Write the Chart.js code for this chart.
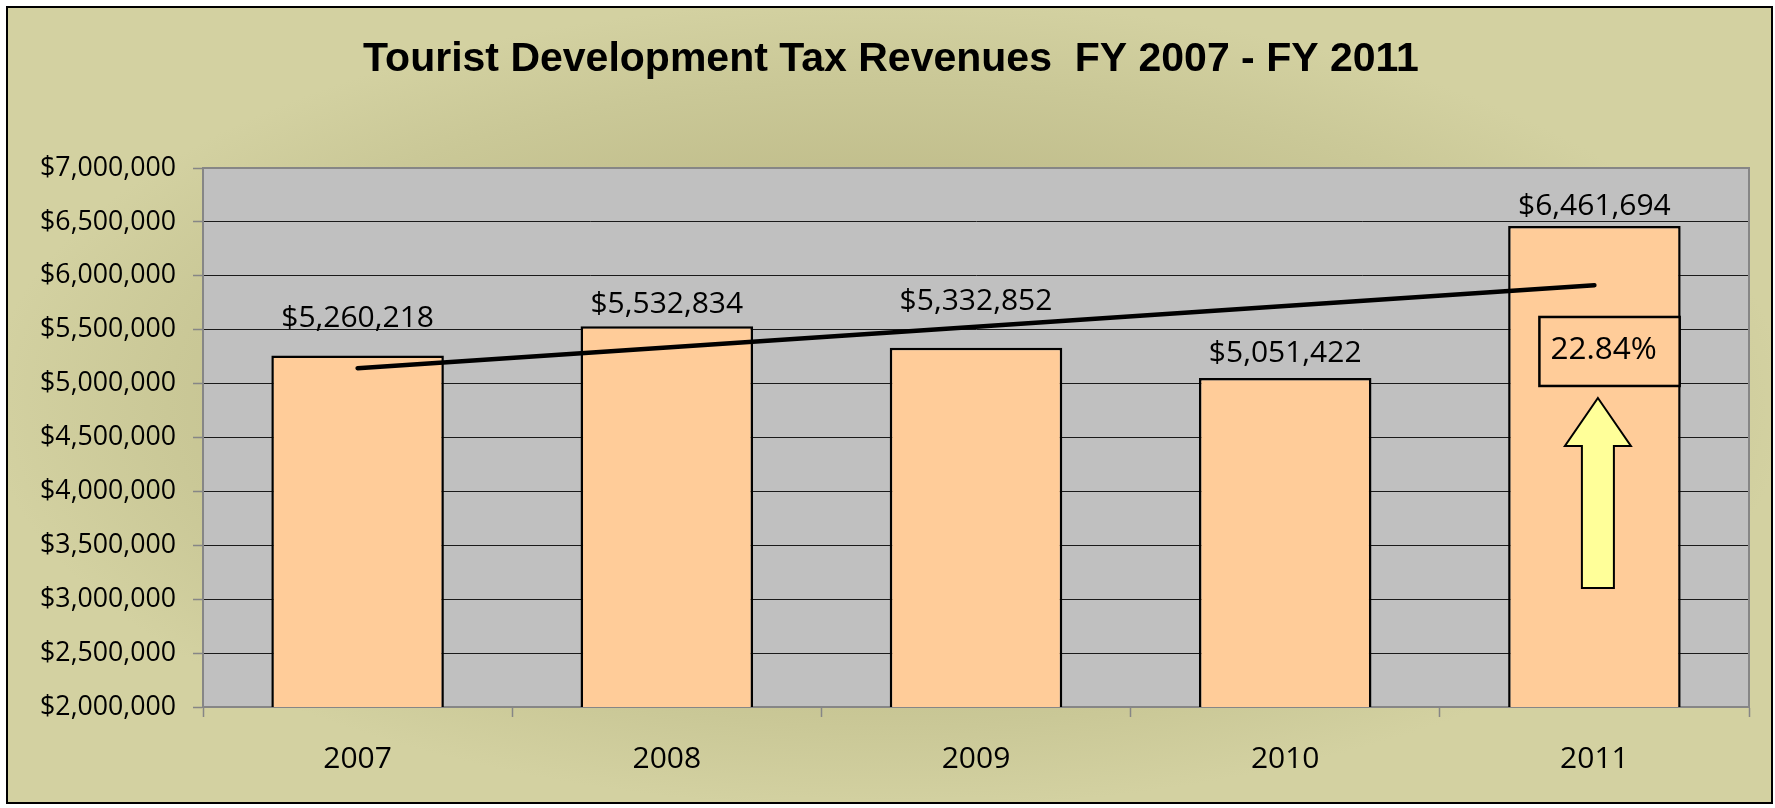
<!DOCTYPE html>
<html><head><meta charset="utf-8">
<script src="https://cdn.jsdelivr.net/npm/chart.js@4.4.1/dist/chart.umd.min.js"></script>
<style>html,body{margin:0;padding:0;background:#fff;}canvas{display:block;}</style>
</head><body>
<canvas id="c" width="1775" height="808"></canvas>
<script>
// ---- data ----
const titleText = 'Tourist Development Tax Revenues  FY 2007 - FY 2011';
const categories = ['2007', '2008', '2009', '2010', '2011'];
const revenues = [5260218, 5532834, 5332852, 5051422, 6461694];
const trendline = [5143496, null, null, null, 5912112];
const yTickValues = [2000000, 2500000, 3000000, 3500000, 4000000, 4500000, 5000000, 5500000, 6000000, 6500000, 7000000];
const growthLabel = '22.84%';

// ---- styles ----
const labelGap = [29, 13, 38, 16, 11];          // px between bar top and value label baseline
const boxRange = [4978000, 5618000];            // annotation box (value units)
const arrowRange = [3104000, 4421000, 4866000]; // arrow bottom, head base, tip (value units)
const FONT = '"Open Sans", "Noto Sans", sans-serif';

const fmt = v => '$' + v.toLocaleString('en-US');

const bgPlugin = {
  id: 'bg',
  beforeDraw(chart) {
    const ctx = chart.ctx, W = chart.width, H = chart.height;
    ctx.save();
    ctx.fillStyle = '#fff';
    ctx.fillRect(0, 0, W, H);
    ctx.save();
    ctx.beginPath();
    ctx.rect(7, 7, 1765, 796);
    ctx.clip();
    ctx.translate(W / 2, H / 2);
    ctx.scale(1, 0.45);
    const g = ctx.createRadialGradient(0, 0, 0, 0, 0, 900);
    g.addColorStop(0, '#b8b585');
    g.addColorStop(0.55, '#c1be8c');
    g.addColorStop(0.8, '#cac897');
    g.addColorStop(1, '#d3d1a1');
    ctx.fillStyle = g;
    ctx.fillRect(-W, -H / 0.45, 2 * W, 2 * H / 0.45);
    ctx.restore();
    ctx.lineWidth = 2;
    ctx.strokeStyle = '#000';
    ctx.strokeRect(7, 7, 1765, 796);
    const a = chart.chartArea;
    ctx.fillStyle = '#c0c0c0';
    ctx.fillRect(a.left, a.top, a.right - a.left, a.bottom - a.top);
    ctx.restore();
  },
  beforeDatasetsDraw(chart) {
    const ctx = chart.ctx, a = chart.chartArea;
    ctx.save();
    ctx.strokeStyle = '#868686';
    ctx.lineWidth = 2;
    ctx.beginPath();
    ctx.moveTo(a.left, a.top);
    ctx.lineTo(a.right, a.top);
    ctx.lineTo(a.right, a.bottom);
    ctx.stroke();
    ctx.restore();
  }
};

const labelPlugin = {
  id: 'labels',
  afterDatasetsDraw(chart) {
    const ctx = chart.ctx;
    const meta = chart.getDatasetMeta(0);
    ctx.save();
    ctx.font = '30px ' + FONT;
    ctx.fillStyle = '#000';
    ctx.textAlign = 'center';
    ctx.textBaseline = 'alphabetic';
    meta.data.forEach((bar, i) => {
      ctx.fillText(fmt(revenues[i]), bar.x, bar.y - labelGap[i]);
    });

    const y = chart.scales.y;
    const bar = meta.data[revenues.length - 1];
    const cx = bar.x, half = bar.width / 2;
    const bTop = y.getPixelForValue(boxRange[1]);
    const bBot = y.getPixelForValue(boxRange[0]);
    const bL = cx - 55, bR = cx + half - 1;
    ctx.fillStyle = '#ffcc99';
    ctx.fillRect(bL, bTop, bR - bL, bBot - bTop);
    ctx.lineWidth = 2.5;
    ctx.strokeStyle = '#000';
    ctx.strokeRect(bL, bTop, bR - bL, bBot - bTop);
    ctx.fillStyle = '#000';
    ctx.font = '31.5px ' + FONT;
    ctx.textAlign = 'left';
    ctx.fillText(growthLabel, bL + 11, bTop + 42);

    const ax = cx + 3.5;
    const tip = y.getPixelForValue(arrowRange[2]);
    const head = y.getPixelForValue(arrowRange[1]);
    const bot = y.getPixelForValue(arrowRange[0]);
    ctx.beginPath();
    ctx.moveTo(ax, tip);
    ctx.lineTo(ax + 33, head);
    ctx.lineTo(ax + 16, head);
    ctx.lineTo(ax + 16, bot);
    ctx.lineTo(ax - 16, bot);
    ctx.lineTo(ax - 16, head);
    ctx.lineTo(ax - 33, head);
    ctx.closePath();
    ctx.fillStyle = '#ffff99';
    ctx.fill();
    ctx.lineWidth = 2;
    ctx.lineJoin = 'miter';
    ctx.stroke();
    ctx.restore();
  }
};

new Chart(document.getElementById('c'), {
  data: {
    labels: categories,
    datasets: [
      {
        type: 'bar',
        data: revenues,
        backgroundColor: '#ffcc99',
        borderColor: '#000',
        borderWidth: 2.5,
        borderSkipped: false,
        categoryPercentage: 1,
        barPercentage: 0.558,
        order: 2
      },
      {
        type: 'line',
        data: trendline,
        spanGaps: true,
        borderColor: '#000',
        borderWidth: 4.5,
        borderCapStyle: 'round',
        pointRadius: 0,
        fill: false,
        order: 1
      }
    ]
  },
  options: {
    responsive: false,
    animation: false,
    devicePixelRatio: 1,
    layout: { padding: { left: 33, right: 26, top: 0, bottom: 0 } },
    plugins: {
      legend: { display: false },
      tooltip: { enabled: false },
      title: {
        display: true,
        text: titleText,
        color: '#000',
        font: { family: '"Liberation Sans", Arial, sans-serif', size: 41, weight: 'bold', lineHeight: 1.2 },
        padding: { top: 35, bottom: 83.8 }
      }
    },
    scales: {
      x: {
        offset: true,
        grid: { offset: true, drawOnChartArea: false, drawTicks: true, tickLength: 10, tickColor: '#868686', tickWidth: 1.5 },
        border: { display: true, color: '#868686', width: 2 },
        ticks: { color: '#000', font: { family: FONT, size: 30 }, padding: 24, maxRotation: 0 },
        afterFit(s) { s.height = 101; }
      },
      y: {
        min: 2000000,
        max: 7000000,
        afterBuildTicks(s) { s.ticks = yTickValues.map(v => ({ value: v })); },
        grid: { color: '#1a1a1a', lineWidth: 1, drawTicks: true, tickLength: 10, tickColor: '#868686', tickWidth: 1.5 },
        border: { display: true, color: '#868686', width: 2 },
        ticks: { color: '#000', font: { family: FONT, size: 26.7 }, padding: 17, callback: v => fmt(v) },
        afterFit(s) { s.width = 170; }
      }
    }
  },
  plugins: [bgPlugin, labelPlugin]
});
</script>
</body></html>
